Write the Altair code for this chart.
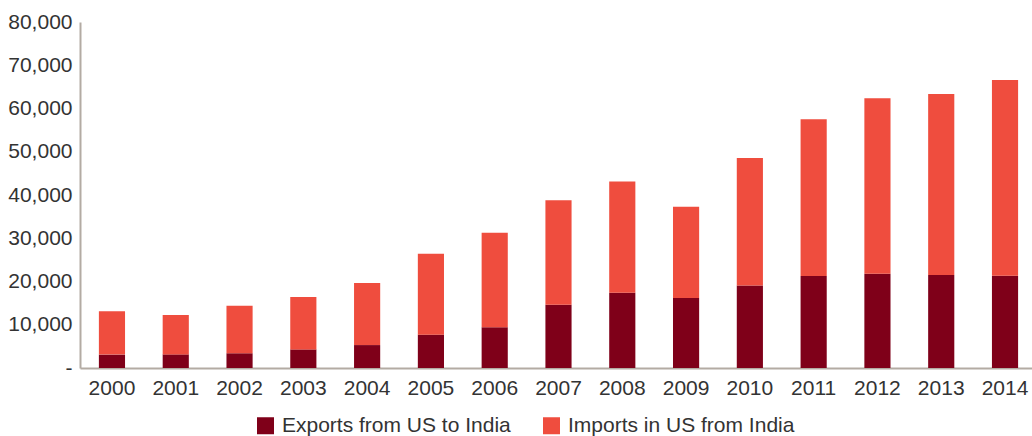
import altair as alt
import pandas as pd

years = [str(y) for y in range(2000, 2015)]
exports = [3100, 3150, 3400, 4300, 5300, 7700, 9400, 14650, 17400, 16200,
           19050, 21250, 21800, 21500, 21350]
imports = [10000, 9100, 11000, 12100, 14350, 18700, 21900, 24150, 25750, 21100,
           29500, 36250, 40550, 41850, 45250]
series = ["Exports from US to India", "Imports in US from India"]
colors = ["#7f0019", "#ef4d3e"]
y_ticks = [0, 10000, 20000, 30000, 40000, 50000, 60000, 70000, 80000]

rows = []
for yr, e, i in zip(years, exports, imports):
    rows.append({"year": yr, "series": series[0], "value": e, "ord": 0})
    rows.append({"year": yr, "series": series[1], "value": i, "ord": 1})
df = pd.DataFrame(rows)

FONT = "Liberation Sans"
TXT = "#333333"
AXC = "#b3aba3"

chart = alt.Chart(df).mark_bar().encode(
    x=alt.X(
        "year:N",
        sort=years,
        scale=alt.Scale(paddingInner=0.59, paddingOuter=0.257, align=0.576),
        axis=alt.Axis(
            title=None, labelAngle=0, ticks=False, tickSize=0, labelPadding=9,
            labelFontSize=21, labelColor=TXT, labelFont=FONT,
            domainColor=AXC, domainWidth=2,
        ),
    ),
    y=alt.Y(
        "value:Q",
        stack="zero",
        scale=alt.Scale(domain=[0, 80000], nice=False),
        axis=alt.Axis(
            title=None, values=y_ticks, grid=False, ticks=False, tickSize=0,
            labelPadding=8, labelFontSize=21, labelColor=TXT, labelFont=FONT,
            labelExpr="datum.value == 0 ? '-' : format(datum.value, ',')",
            domainColor=AXC, domainWidth=2,
        ),
    ),
    color=alt.Color(
        "series:N",
        scale=alt.Scale(domain=series, range=colors),
        legend=alt.Legend(
            title=None, orient="none", legendX=175, legendY=393,
            direction="horizontal", symbolType="square", symbolSize=289,
            symbolStrokeWidth=0, labelFontSize=21, labelFont=FONT,
            labelColor=TXT, columnPadding=30, labelOffset=6, labelLimit=500,
        ),
    ),
    order=alt.Order("ord:Q"),
).properties(
    width=952,
    height=346,
    padding={"left": 80, "top": 22, "right": 0, "bottom": 68},
    autosize=alt.AutoSizeParams(type="none"),
).configure_view(stroke=None).configure_axis(labelFont=FONT)

chart.save("out.html", embed_options={"renderer": "svg", "actions": False})
